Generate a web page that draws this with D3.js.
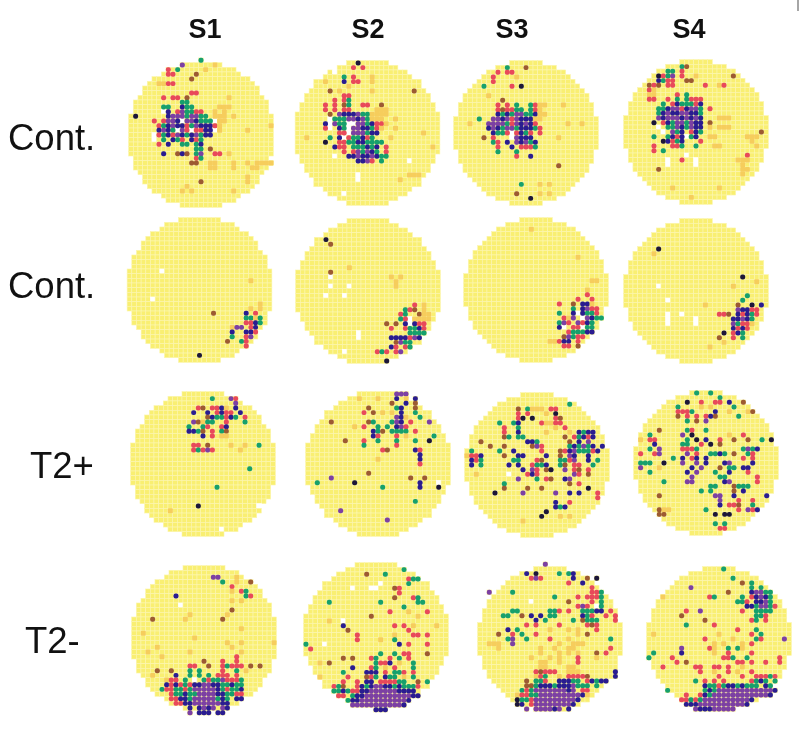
<!DOCTYPE html>
<html><head><meta charset="utf-8">
<style>html,body{margin:0;padding:0;background:#fff}svg{display:block}</style>
<script src="https://cdn.jsdelivr.net/npm/d3@7"></script></head>
<body><div id="chart"></div>
<script>
const sessions = ["S1","S2","S3","S4"];
const conditions = ["Cont.","Cont.","T2+","T2-"];
const levels = [".","o","n","r","g","b","p","k","w"];
const levelColors = ["#F9EF72","#F6CD5C","#9C5A30","#E8485A","#14A06C","#2A1F90","#7C3FA3","#1C1838","#FFFFFF"];
// each map: "row col codes" runs of firing-rate levels on a 33x33 grid
const mapsCont1 = [
"0 16 g;1 12 p;1 19 o;2 9 r;2 11 g;2 17 o;3 9 rr;3 15 n;4 14 n;5 7 oorr;7 14 rr;8 8 r.rr.n;8 22 o;9 12 gg;10 8 gg..bgg;10 20 ooo;11 8 wb.rpggrr;11 19 o.o;12 2 k;12 9 bpppgppgg;12 19 ooo.o;13 6 r.rppbwppbgggwo;13 21 o;14 7 rgbpbbrgpbbbro;14 31 o;15 7 bpbgwprwrrbbwo;15 26 o;16 6 wrgbrpbgbpgbb;17 6 w.g.bgr.brg;18 7 r.b..gg.gb;19 15 gg;19 18 n;20 8 b;20 11 nbn;20 15 gp;20 19 rr;20 22 o;21 15 rg;22 14 nn;22 18 oo;22 23 o;22 26 o.oooo;23 18 oo;23 23 o;23 27 oo;25 26 o;26 16 n;26 26 o;27 13 o;28 12 o.o;28 23 o",
"1 14 k;2 13 r.r;3 9 w;4 11 g.r;4 17 o;5 7 o;5 11 b.rr;5 17 o;6 12 o;7 8 n.o;7 17 o;7 26 n;8 11 rr;9 9 r.rg;10 7 r.r.ng;10 15 rr;10 19 n;11 7 r.r.rr;11 18 ooo;12 8 n.pbbbpgg;12 17 oooo;13 8 wgggppbpg;13 17 ooo;13 22 o;14 7 bwpggwwppgbrro;15 7 rw.bgwppbbgro;15 22 o;16 10 rrwpppgbb;16 28 o;17 3 o;17 8 g.bwrggbrg;17 21 o;18 7 k..rrggbbgggg;19 9 brr.gggbgb;19 20 r;19 30 o;20 11 r.rpgpbg;20 20 r;21 9 w;21 12 bbpbbpbgg;22 14 bbpr.g;22 25 w;25 14 w;25 25 ooo;26 14 w;26 23 o;29 11 w",
"2 12 g;2 16 n;3 10 r.rr;4 9 r;4 14 o;5 9 r;6 7 g;6 13 r;6 15 k;8 8 o;9 11 n;10 10 r.r.g;10 17 gr;10 19 oo;10 24 o;11 10 rnrrgg.gr;11 19 o;12 10 bgbgppggb;12 19 oo;13 6 g;13 9 ppbprpbbb;13 18 oo;14 4 o;14 8 ppppgrpbpbr;14 25 o;14 28 o;15 8 bpbgppgbbbgr;16 9 bggrwrbgr.r;17 7 n.r;17 13 wpbbb;17 23 o;18 9 gr.b.pbpgb;19 10 r..b.rrrg;20 10 g;20 14 g;21 14 r;21 17 b;23 23 n;27 15 g;27 19 o;27 21 o;29 14 n;29 19 o.o;30 17 k",
"2 13 gn;3 10 gg.r;4 8 krgp.r;4 16 o;4 24 n;5 8 bgrr;5 14 nn;6 6 nrn.rr;6 18 r;6 21 or;7 6 ro.;8 6 oo;8 12 r.g;9 6 rr;9 10 r.g.g;9 15 rrr;10 9 g.rbgggrb;11 8 ggbpprbppg;11 19 r;12 8 gbpbbppbbg;13 8 pbpppbpbpb;13 21 ooo;14 7 k.rbgppgpbb;14 19 n;15 8 w.ggpbgpbb;15 19 o;15 21 ooo;16 9 w.pgb.rbg;16 30 n;17 7 g;17 10 gbrbwgb;17 19 oo;17 27 ooo;18 9 kbrgb;18 17 r;18 28 o;19 7 r;19 11 rrg;19 16 g;19 20 oo;19 29 o;20 7 r.g;21 14 w;21 27 r;22 10 w;22 13 r;22 16 w;22 25 ooo;23 10 w;23 16 w;23 26 o;24 8 n;24 26 oo;25 26 o;28 11 o;28 21 o;30 15 o"
];
const mapsCont2 = [
"12 8 w;14 27 o;18 6 w;19 29 o;20 27 o;20 29 o;21 19 n;21 26 b.r;22 26 ggog;23 26 rrbg;24 23 o;24 24 pp.rb;25 23 b;25 26 bbr;26 23 g;26 26 rp;27 22 n;27 25 gr;28 26 r;30 16 k",
"5 7 k;6 8 n;11 12 o;12 8 n;13 8 w;13 21 o;13 23 o;14 22 o;15 8 w;15 12 w;15 22 o;17 7 w;17 11 w;19 26 r;19 28 o;20 24 grn;20 28 o;21 23 rg;21 27 noo;22 23 grw;22 26 oooo;23 20 n;23 22 n;23 24 bwbrr;24 21 r;24 24 rggbr;25 25 gggg;26 21 bbbbrpb;27 22 npgg;28 21 br.rg;29 18 rgr;29 22 rp;25 14 w;26 14 w;29 11 w;31 20 k",
"3 15 o;9 25 o;14 28 oo;16 27 o;17 27 r;18 25 r;18 28 r;19 21 r;19 24 n;19 26 bbo;20 24 g.bprr;21 21 g;21 24 bwbggr;22 22 rop.wpbgg;23 21 gpr.ppr;23 26 rbg;24 21 bw;24 24 rrwgg;25 23 rgggbb;26 22 npgrr;27 19 oo;27 21 rbb;27 25 r;28 22 rr;28 25 n",
"7 8 k;8 7 o;13 26 k;14 29 o;15 24 o;15 8 w;17 27 g;18 10 w;18 26 g;19 18 o;19 25 n;19 28 k;19 30 b;20 25 pbbrr;21 10 w;21 13 w;21 21 rrn;21 25 brbgr;22 10 w;22 16 w;22 24 bbpbg;23 10 w;23 16 w;23 24 pgrro;24 24 brbr;25 22 k;25 24 rbg;26 21 n;26 24 r.g;27 22 o;28 19 o"
];
const mapsT2p = [
"2 18 g;2 22 pr;3 23 p;4 15 rn;4 18 rrbb;4 21 o;4 23 b;5 14 b;5 17 b;5 19 rbrr;5 24 b;6 17 nbggrbg;6 25 r;7 14 pn;7 16 o;7 17 gg.;7 21 r;7 25 g;8 13 g;8 16 gr;8 20 rb;9 13 bbgn;9 18 r;9 20 gn;10 16 b;10 18 r;10 20 o;10 21 o;12 14 rr;12 17 n;12 22 o;12 25 o;12 28 g;13 14 rgrpr;13 24 o;17 26 g;21 19 g;25 15 k;26 9 o;30 20 w;25 28 w",
"1 20 ppp;2 12 o;2 16 o;2 20 b.o.b;3 19 n;3 22 b;3 24 n;4 14 n;4 20 gb;4 24 n;5 13 r;5 15 n;5 17 o;5 19 o;5 21 b;5 24 g;6 20 pb;6 22 o;6 25 g;7 6 n;7 14 ng;7 19 gpb;7 23 r;7 27 p;8 11 o;8 13 r;8 16 g.g;8 20 bpr;9 15 bgn.gggg;9 24 r;10 15 br;10 20 r;10 22 o;10 28 g;11 9 n;11 13 r;11 16 g;11 20 g;11 24 g;11 27 k;12 13 g;12 20 r;13 17 rn;13 24 br;14 25 b;15 16 o;15 25 b;16 25 r;18 14 n;19 6 p;19 23 n;19 26 n;20 3 g;20 11 k;20 25 b;20 29 w;21 17 g;21 25 b;21 29 k;24 24 g;26 8 p;28 18 p",
"3 23 g;4 12 n.g;4 15 ooo;4 19 rr;5 12 r.r;5 18 o;5 20 k;6 12 rk.k;6 20 rn;7 8 g;7 11 gb;7 17 roo;7 20 rr;8 9 r;8 12 g;8 20 o;8 22 r;9 9 r;9 12 b;9 18 o;9 23 o;9 25 bgbb;10 9 ng.gg;10 22 n;10 24 r;10 25 gbrb;11 4 n;11 14 bbg;11 23 n;11 25 b.p;12 6 n;12 9 n;12 15 npr;12 23 gbgpgb;12 30 b;13 2 g;13 8 g;13 11 b;13 17 r;13 21 nr;13 23 bpgggrb;14 1 orrb;14 9 n;14 12 bb;14 18 b;14 21 n;14 23 pb;14 27 b;15 2 brg;15 11 gg;15 16 rn;15 21 ggrp;15 27 b;15 29 g;16 2 b.g;16 10 b;16 12 b;16 15 rgg;16 18 b;16 21 gn;16 24 rr;16 28 g;17 13 b;17 15 pr.n;17 19 k;17 22 p;17 24 rn;17 27 r;18 3 o;18 10 w;18 14 rb;18 16 r;18 24 pr;18 27 n;19 12 p;19 16 g;19 18 rn;19 22 bp;20 9 g;20 23 n;20 25 r;21 9 n;21 14 n;21 17 n;21 27 k;22 7 k;22 13 p;22 20 p;22 23 b;22 25 b;22 29 r;23 29 r;24 20 b;24 23 r;25 20 bgb;26 18 k;27 17 k;27 21 o;27 23 o;28 13 o",
"1 14 g;1 17 g;2 19 g;3 12 k;3 15 r;3 18 rr;3 21 b;3 24 n;4 10 g;4 15 o;4 17 o;4 22 g;5 10 r;5 11 r;5 12 r;5 13 g;5 18 b;5 21 o;5 25 on;6 10 n;6 12 r;6 14 r;6 16 rb.;6 18 n;6 23 g;7 12 g;7 14 n;7 16 p;9 6 n;9 12 gr;9 16 g;10 4 g;10 11 p;10 13 k;10 21 o;10 24 r;11 2 o;11 4 rr;11 12 g;11 14 k;11 16 b;11 19 r;11 22 n;11 25 n;11 28 g;11 30 k;12 5 b;12 11 gg;12 15 r;12 17 k;12 19 n;13 4 g;13 6 p;13 11 rrrg;13 24 gpgb;14 2 r;14 5 rp;14 12 p;14 14 r;14 17 ggbg;14 22 n;14 25 gr;15 9 g;15 11 b;15 13 rb;15 16 b;15 24 r;15 26 r;16 2 ggg;16 7 k;16 11 p;16 14 p;16 16 b;16 20 bp;16 26 b;17 2 p;17 6 o;17 13 b;17 15 p;17 19 n;17 21 gg;17 24 bb;18 4 g;18 12 b;18 14 p;18 18 g;18 21 b;18 25 r;19 13 p;19 19 gg;19 27 r;20 7 g;20 12 pp;20 20 bp;20 27 r;21 17 gg;21 22 nggg;22 15 g;22 17 g;22 22 n;22 24 b;23 6 n;23 18 pp;23 22 b;23 29 b;24 19 p;24 23 r;24 26 r;25 19 b;25 21 rrn;25 26 g;26 6 noo;26 16 g;26 23 r;26 25 prb;27 6 nn;27 18 k;27 20 kk;29 18 g;29 20 g;30 19 rr"
];
const mapsT2m = [
"3 18 pp;3 23 o;4 20 g;4 23 o;4 26 n;5 22 r;6 24 rg;6 22 o;7 10 b;7 25 gr;8 22 o;8 24 o;9 11 w;10 22 n;11 13 o;11 21 o;12 5 n;12 20 n;12 12 o;14 24 o;15 3 o;16 14 o;17 21 o;17 24 o;17 31 o;18 6 o;18 22 o;19 4 o;19 13 o;19 24 o;20 7 o;20 23 r;21 16 n;21 20 r;21 23 r;22 13 rr;22 17 n;22 20 rgrrr;22 26 n;22 28 n;23 6 n;23 9 n;23 13 g;23 15 g;23 20 r;23 23 g;23 25 o;24 5 o;24 10 b;24 13 g;24 15 g;24 17 g;24 19 rrr;24 23 r;25 8 orr.g.w.grg;25 19 gprrrg;26 8 brbrgrbbppbbggbgg;27 7 grrggrgpppppbgrggb;28 9 rggbggppppbbggrr;29 9 rrbbgpppppgbg.bb;30 10 rrbbppppppbb;31 13 b.bpbp.pb;32 13 p.bbb.bb",
"2 22 g;3 14 n;3 18 g;4 23 rgg;5 23 g;5 17 w;6 11 w;6 15 ww;6 20 nr;7 21 r;8 20 n;8 24 rg;9 6 g;9 17 g;9 25 gg;10 22 g;11 19 r;11 23 o;11 27 r;12 15 n;12 25 o;13 6 o;13 9 w;14 9 b;14 20 r;14 22 r;14 24 o;14 29 o;15 10 n;15 23 r;16 12 r;16 20 o;16 24 rr;16 27 r;17 12 r;17 17 o;17 20 g;18 1 g;18 5 w;18 21 b;18 23 r;18 27 r;19 2 r;20 17 g;20 20 g;20 22 rr;20 27 n;21 9 n;21 11 n;21 15 rg;21 19 r;21 21 g;21 23 r;22 6 n;22 16 grrb;22 21 o;22 24 g;22 4 o;23 11 b;23 15 rg;23 18 o;23 20 r;23 24 g;24 9 g;24 14 bbb.r.ggr.r;25 4 o;25 10 r;25 14 nrg.bgg.o.g;26 9 r;26 12 r;26 14 bb.rrrrgg;26 25 n;26 27 g;27 7 rgn;27 12 rbgbppbbgbgggr;28 7 ggbgrrbbppppppbbbb;29 8 rr.gbbppppppppppbb;30 10 gbbppppppppppb;31 11 pppppppppppb;32 16 bbb",
"0 15 p;2 11 b.k;2 18 g;2 20 gb;3 12 rpr;3 21 b;3 24 n;3 26 k;4 20 r;4 23 b;5 25 r;6 3 p;6 8 g;6 25 r.g;6 26 r;7 17 g;7 22 r;7 24 rrrg;8 12 w;8 20 n;8 25 r;8 27 g;9 22 rpr;9 26 wg;10 8 gg;10 16 ggr;10 20 r;10 23 gggb;10 27 b;10 29 r;11 6 gg;11 10 n;11 12 b;11 14 b;11 16 gg;11 23 bgr;11 28 r;11 30 r;12 13 b;12 15 g;12 21 g;12 23 nggg;12 30 r;13 11 r;13 13 r;13 18 r;13 24 rnr;14 7 b;14 9 g;14 16 o;14 20 o;14 22 o;14 26 r;15 5 n;15 8 r;15 10 g;15 13 r;15 22 o;15 24 n;16 7 gp;16 11 g;16 16 r;16 20 o;16 29 g;17 3 oo;17 5 o;17 8 p;17 18 o;17 21 o;17 22 oo;18 5 o;18 14 o;18 17 o;18 20 oo;18 29 r;19 14 o;19 18 o.o;19 22 o;19 26 n;19 28 r;20 12 o;20 16 o.o;20 22 r;20 26 o;21 14 oo;21 18 o;21 22 r;22 14 oo;22 20 oo;23 13 r;23 14 nrr;23 16 rr;23 20 ooo;23 30 b;24 13 org;24 18 o;24 20 rrrrn;24 30 b;25 11 n;25 13 ggr;25 18 bbbgg;25 24 rbgbb;26 11 nngbbbgbbbpggg;26 26 g;27 10 grgpppppppbp.r;27 24 r;28 9 orrggpppppppppb;28 24 o;29 8 .kggrpppppppppb;30 9 kb.rppppppppb;31 11 p.ppppbp.b",
"1 17 g;3 19 g;4 21 n;4 23 g;5 10 p;5 23 g;5 25 g;6 18 n;6 23 bp;6 25 pgg;7 4 o;7 14 rg;7 21 g;7 23 rbpbg;8 20 gg;8 22 r;8 24 bbpg;9 22 bb;9 24 gppg;9 28 r;10 9 r;10 12 p;10 21 r;10 24 gggg;11 8 n;11 24 ggr;12 13 n;12 23 rg;12 26 r;13 9 g;13 15 r;14 20 r;14 24 g;15 2 o;15 16 o;15 23 r;15 25 g;16 13 r;16 19 o;16 24 gr;16 30 p;17 15 o;17 17 o;17 21 o;17 23 r;18 8 p;18 14 r;18 15 o;18 18 g;18 20 g;18 21 o;19 2 g;19 8 b;19 15 o;19 18 r;19 23 r;20 1 g;20 6 r;20 17 rrg;20 22 g;20 29 r;21 7 r;21 9 n;21 20 rr;21 23 r;21 26 r;21 29 r;22 4 r;22 11 rr;22 15 rr;22 18 r;22 21 o;23 12 r;23 15 o;23 18 r;23 20 o;23 23 r;24 16 r;24 21 r;24 24 rrrgr;25 11 g;25 13 r;25 15 r;25 17 r;25 23 rgbg.g;26 13 bggrgbbgbggg.bg;27 5 g;27 13 gbgppppppppppppb;28 9 r;28 12 rbgppppppppppppb;29 8 rrgrgppppppppppb;30 9 bbbppppppppppb;31 11 pbbbppppp"
];
const maps = [mapsCont1, mapsCont2, mapsT2p, mapsT2m];
// disc centres in page pixels, per condition row and session column
const discX = [[201,367.5,526,696],[199.5,368,536,696],[203,378,537,706],[204,376,550,719]];
const discY = [[135,133,133,132],[290,291,290,291],[464,464,465,463],[638,635,639,639]];
const discR = [15.7,15.6,15.3,15.3];
const gridSize = 33, pitch = 4.67;

const svg = d3.select("#chart").append("svg").attr("width",800).attr("height",730);
const defs = svg.append("defs");
defs.append("filter").attr("id","soft").attr("x","-5%").attr("y","-5%").attr("width","110%").attr("height","110%")
  .append("feGaussianBlur").attr("stdDeviation",0.6);

const band = d3.scaleBand().domain(d3.range(gridSize)).range([0,gridSize*pitch]);
const color = d3.scaleOrdinal().domain(levels).range(levelColors);

function parseMap(text){
  const m = new Map();
  text.split(";").forEach(seg=>{
    const [r,c,codes] = seg.trim().split(" ");
    [...codes].forEach((ch,i)=>{ if(ch!==".") m.set((+r)+","+(+c+i),ch); });
  });
  return m;
}
const plot = svg.append("g").attr("filter","url(#soft)");
maps.forEach((rowMaps,ri)=>{
  rowMaps.forEach((text,ci)=>{
    const lookup = parseMap(text), cells=[];
    const rad = discR[ci];
    for(let r=0;r<gridSize;r++) for(let c=0;c<gridSize;c++){
      const inside = Math.hypot(r-16,c-16)<=rad;
      const code = lookup.get(r+","+c);
      if(inside||code) cells.push({r,c,code:code||"."});
    }
    const g = plot.append("g").attr("transform",`translate(${discX[ri][ci]-band(16)-band.bandwidth()/2},${discY[ri][ci]-band(16)-band.bandwidth()/2})`);
    g.selectAll("rect.bg").data(cells).join("rect")
      .attr("x",d=>band(d.c)).attr("y",d=>band(d.r))
      .attr("width",band.bandwidth()).attr("height",band.bandwidth())
      .attr("fill",d=>d.code==="w"?color("w"):color("."))
      .attr("stroke",d=>d.code==="w"?"#FFFFFF":"#FCF6B0").attr("stroke-width",0.6);
    g.selectAll("rect.dot").data(cells.filter(d=>d.code!=="."&&d.code!=="w")).join("rect")
      .attr("x",d=>band(d.c)-0.15).attr("y",d=>band(d.r)-0.15)
      .attr("width",band.bandwidth()+0.3).attr("height",band.bandwidth()+0.3)
      .attr("rx",d=>d.code==="o"?1:2).attr("fill",d=>color(d.code));
  });
});

const sessionX = [205,368,512,689];
svg.append("g").selectAll("text").data(sessions).join("text")
  .attr("x",(d,i)=>sessionX[i]).attr("y",38).attr("text-anchor","middle")
  .attr("font-family","Liberation Sans, Arial, sans-serif").attr("font-weight","bold").attr("font-size",27).attr("fill","#111")
  .text(d=>d);
const conditionX = [8,8,30,25], conditionY = [150,298,478,653];
svg.append("g").selectAll("text").data(conditions).join("text")
  .attr("x",(d,i)=>conditionX[i]).attr("y",(d,i)=>conditionY[i])
  .attr("font-family","Liberation Sans, Arial, sans-serif").attr("font-size",36.5).attr("fill","#111")
  .text(d=>d);
svg.append("line").attr("x1",798).attr("x2",798).attr("y1",0).attr("y2",11).attr("stroke","#888").attr("stroke-width",1.5);
</script></body></html>
